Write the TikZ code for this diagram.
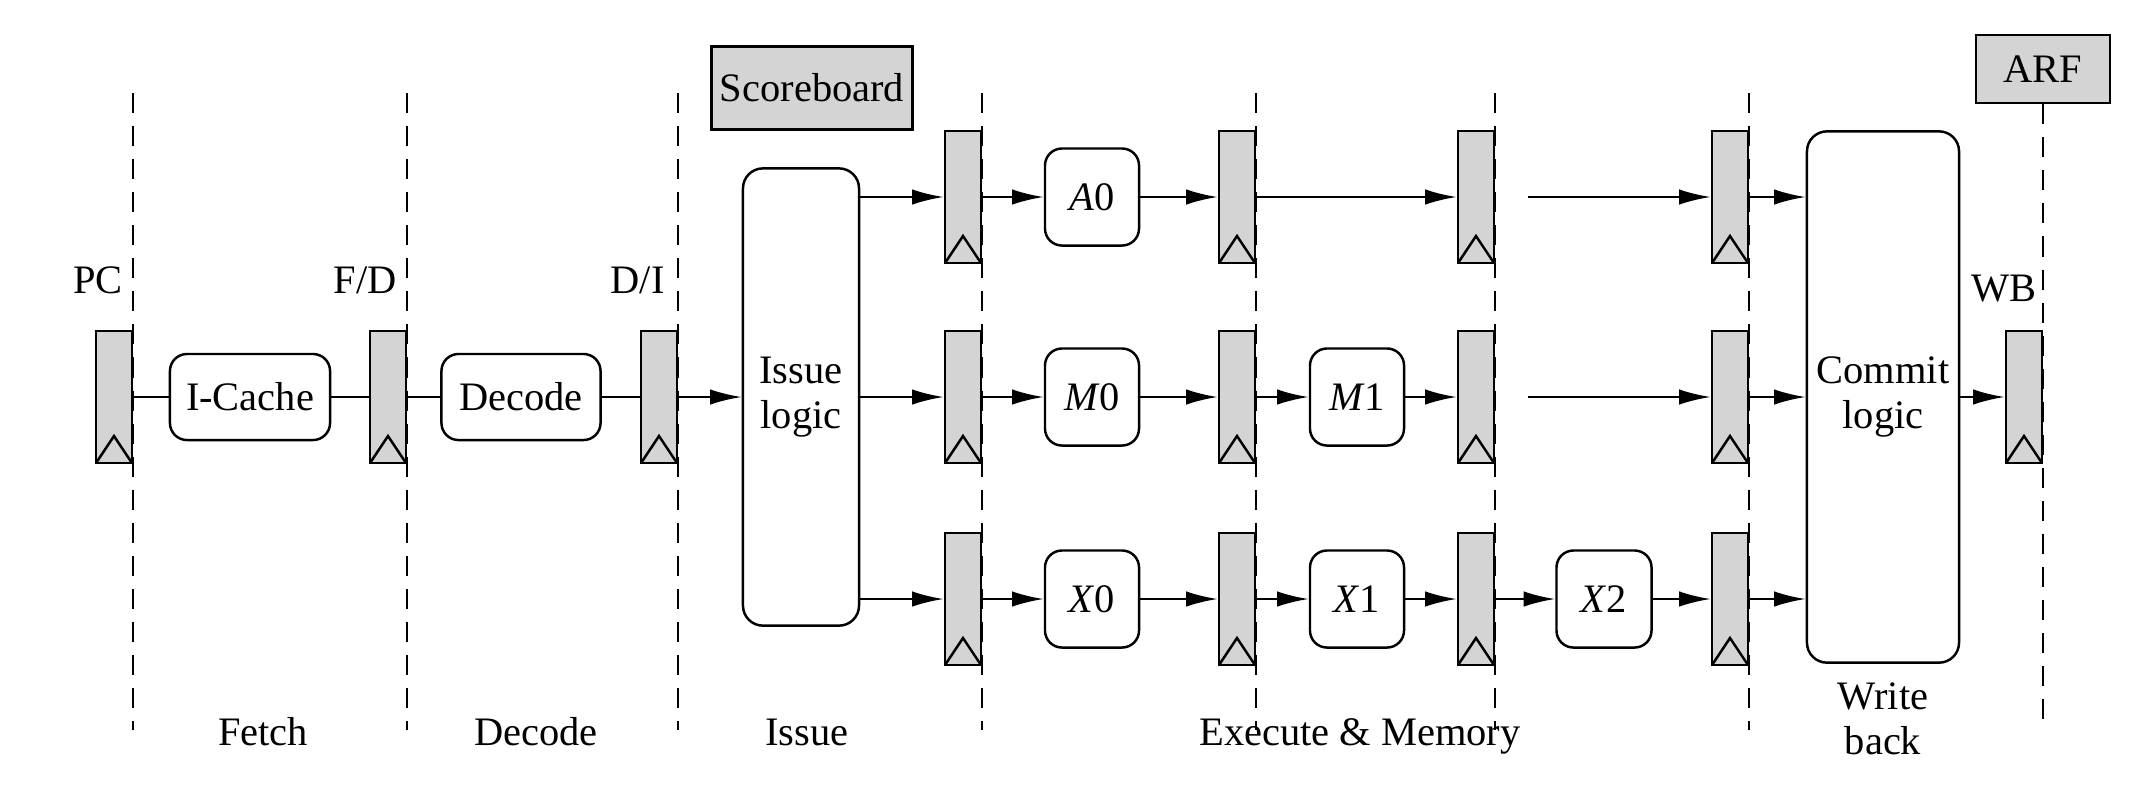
\documentclass[tikz,border=0pt]{standalone}
\usepackage{fontspec}
\setmainfont{Liberation Serif}
\usetikzlibrary{arrows.meta,positioning,calc}
\definecolor{latchColor}{RGB}{212,212,212}
\definecolor{fileColor}{RGB}{212,212,212}
\tikzset{stagebox/.style={draw, line width=0.7pt, fill=white, align=center, inner sep=0pt, rounded corners=0.17cm}}
\tikzset{pipereg/.style={draw, line width=0.7pt, fill=latchColor, minimum width=0.36cm, minimum height=1.32cm, inner sep=0pt,
	path picture={\draw[line width=0.7pt] (path picture bounding box.south west) -- ([yshift=0.27cm]path picture bounding box.south) -- (path picture bounding box.south east);}}}
\tikzset{regfile/.style={draw, line width=0.7pt, fill=fileColor, inner sep=0pt}}
\tikzset{stageline/.style={line width=0.6pt, dash pattern=on 5.7pt off 3.7pt}}
\tikzset{wire/.style={line width=0.7pt}}
\tikzset{flow/.style={line width=0.7pt, -{Latex[length=9pt, width=4.4pt]}}}

\begin{document}
\begin{tikzpicture}[x=0.01cm, y=-0.01cm, font=\fontsize{11.5}{13}\selectfont]
	\useasboundingbox (0,0) rectangle (2136,790);
	% Nodes
	\pgfdeclarelayer{background}
	\pgfsetlayers{background,main}

		\node (scoreboard) [regfile, minimum width=2.01cm, minimum height=0.83cm] at (812,88) {Scoreboard};
		\node (arf) [regfile, minimum width=1.34cm, minimum height=0.68cm] at (2043,69) {ARF};

		\node (pc) [pipereg] at (114,397) {};
		\node (icache) [stagebox, minimum width=1.6cm, minimum height=0.86cm] at (250,397) {I-Cache};
		\node (fd) [pipereg] at (388,397) {};
		\node (decode) [stagebox, minimum width=1.59cm, minimum height=0.86cm] at (521,397) {Decode};
		\node (di) [pipereg] at (659,397) {};

		\node (issue) [stagebox, minimum width=1.16cm, minimum height=4.57cm, rounded corners=0.2cm] at (801,397) {Issue\\logic};

		\node (ra1) [pipereg] at (963,197) {};
		\node (rm1) [pipereg] at (963,397) {};
		\node (rx1) [pipereg] at (963,599) {};

		\node (a0) [stagebox, minimum width=0.94cm, minimum height=0.97cm] at (1092,197) {\textit{A}0};
		\node (m0) [stagebox, minimum width=0.94cm, minimum height=0.97cm] at (1092,397) {\textit{M}0};
		\node (x0) [stagebox, minimum width=0.94cm, minimum height=0.97cm] at (1092,599) {\textit{X}0};

		\node (ra2) [pipereg] at (1237,197) {};
		\node (rm2) [pipereg] at (1237,397) {};
		\node (rx2) [pipereg] at (1237,599) {};

		\node (m1) [stagebox, minimum width=0.94cm, minimum height=0.97cm] at (1357,397) {\textit{M}1};
		\node (x1) [stagebox, minimum width=0.94cm, minimum height=0.97cm] at (1357,599) {\textit{X}1};

		\node (ra3) [pipereg] at (1476,197) {};
		\node (rm3) [pipereg] at (1476,397) {};
		\node (rx3) [pipereg] at (1476,599) {};

		\node (x2) [stagebox, minimum width=0.95cm, minimum height=0.97cm] at (1604,599) {\textit{X}2};

		\node (ra4) [pipereg] at (1730,197) {};
		\node (rm4) [pipereg] at (1730,397) {};
		\node (rx4) [pipereg] at (1730,599) {};

		\node (commit) [stagebox, minimum width=1.52cm, minimum height=5.31cm, rounded corners=0.2cm] at (1883,397) {Commit\\logic};
		\node (wb) [pipereg] at (2024,397) {};

		% Labels
		\node (pclabel) [anchor=base east, inner sep=0pt] at ([xshift=-0.1cm, yshift=0.36cm]pc.north east) {PC};
		\node (fdlabel) [anchor=base east, inner sep=0pt] at ([xshift=-0.1cm, yshift=0.36cm]fd.north east) {F/D};
		\node (dilabel) [anchor=base east, inner sep=0pt] at ([xshift=-0.13cm, yshift=0.36cm]di.north east) {D/I};
		\node (wblabel) [anchor=base east, inner sep=0pt] at ([xshift=-0.06cm, yshift=0.28cm]wb.north east) {WB};

		\node (fetchlabel) [anchor=base] at (263,745) {Fetch};
		\node (decodelabel) [anchor=base] at (536,745) {Decode};
		\node (issuelabel) [anchor=base] at (807,745) {Issue};
		\node (exelabel) [anchor=base] at (1360,745) {Execute \& Memory};
		\node (wblabel2) [below=0.06cm of commit, align=center] {Write\\back};

		\coordinate (agap) at (1528,197);
		\coordinate (mgap) at (1528,397);

		\begin{pgfonlayer}{background}
		\draw [stageline] (pc.east |- 0,93) -- (pc.east |- 0,730);
		\draw [stageline] (fd.east |- 0,93) -- (fd.east |- 0,730);
		\draw [stageline] (di.east |- 0,93) -- (di.east |- 0,730);
		\draw [stageline] (rx1.east |- 0,93) -- (rx1.east |- 0,730);
		\draw [stageline] (rx2.east |- 0,93) -- (rx2.east |- 0,730);
		\draw [stageline] (rx3.east |- 0,93) -- (rx3.east |- 0,730);
		\draw [stageline] (rx4.east |- 0,93) -- (rx4.east |- 0,730);
		\draw [stageline] (arf.south) -- (arf.south |- 0,730);
		\end{pgfonlayer}

		% Connectors
		\draw [wire] (pc) -- (icache);
		\draw [wire] (icache) -- (fd);
		\draw [wire] (fd) -- (decode);
		\draw [wire] (decode) -- (di);

		\begin{scope}[flow]
		\draw (di) -- (di -| issue.west);

		\draw (issue.east |- ra1) -- (ra1);
		\draw (ra1) -- (a0);
		\draw (a0) -- (ra2);
		\draw (ra2) -- (ra3);
		\draw (agap) -- (ra4);
		\draw (ra4) -- (ra4 -| commit.west);

		\draw (issue.east |- rm1) -- (rm1);
		\draw (rm1) -- (m0);
		\draw (m0) -- (rm2);
		\draw (rm2) -- (m1);
		\draw (m1) -- (rm3);
		\draw (mgap) -- (rm4);
		\draw (rm4) -- (rm4 -| commit.west);
		\draw (commit.east |- wb) -- (wb);

		\draw (issue.east |- rx1) -- (rx1);
		\draw (rx1) -- (x0);
		\draw (x0) -- (rx2);
		\draw (rx2) -- (x1);
		\draw (x1) -- (rx3);
		\draw (rx3) -- (x2);
		\draw (x2) -- (rx4);
		\draw (rx4) -- (rx4 -| commit.west);
		\end{scope}

\end{tikzpicture}
\end{document}
